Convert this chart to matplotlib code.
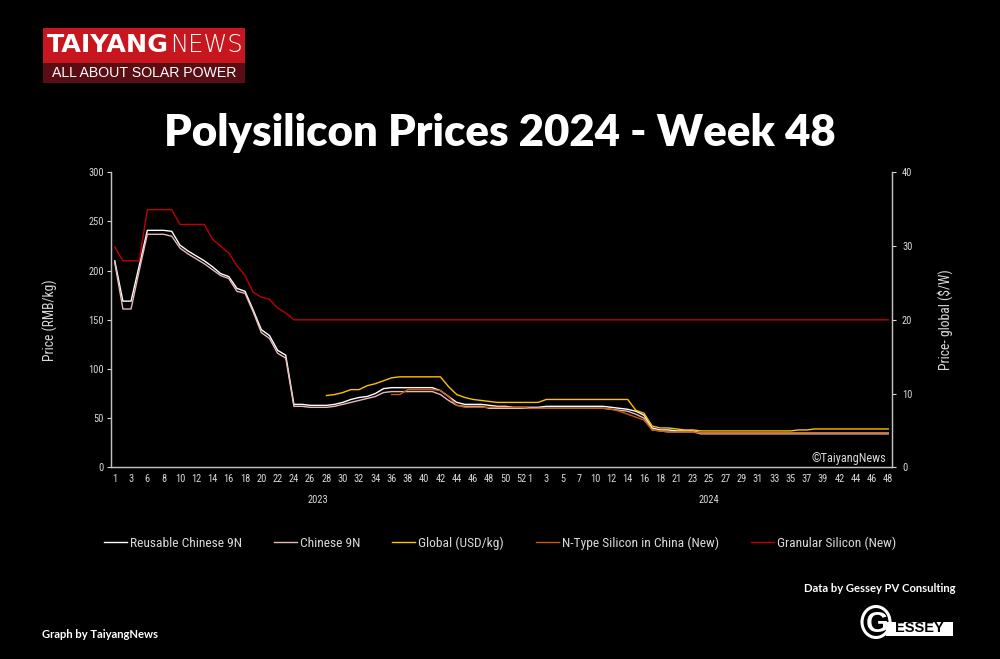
import matplotlib
matplotlib.use("Agg")
import matplotlib.pyplot as plt
import numpy as np
from matplotlib import font_manager
from matplotlib.patches import Rectangle, Ellipse
from matplotlib.transforms import blended_transform_factory

nan = np.nan

# week categories (two groups on the x axis)
weeks_2023 = [1, 2, 3, 5] + list(range(6, 53))
weeks_2024 = list(range(1, 9)) + list(range(10, 20)) + list(range(21, 41)) + list(range(42, 49))
years = ["2023", "2024"]

reusable_9n = [
    210, 169, 169, 205, 241, 241, 241, 240, 226, 220,
    215, 210, 204, 197, 194, 182, 179, 160, 140, 134,
    119, 114, 64, 64, 63, 63, 63, 64, 66, 69,
    71, 72, 75, 80, 81, 81, 81, 81, 81, 81,
    78, 72, 66, 64, 64, 64, 63, 62, 62, 61,
    61, 61, 61, 62, 62, 62, 62, 62, 62, 62,
    62, 61, 60, 59, 57, 53, 40, 38, 38, 37,
    37, 37, 35, 35, 35, 35, 35, 35, 35, 35,
    35, 35, 35, 35, 35, 35, 35, 35, 35, 35,
    35, 35, 35, 35, 35, 35,
]
chinese_9n = [
    208, 161, 161, 200, 237, 237, 237, 235, 223, 217,
    212, 207, 201, 195, 192, 179, 177, 158, 137, 131,
    116, 111, 62, 62, 61, 61, 61, 62, 64, 66,
    68, 70, 72, 76, 77, 77, 77, 77, 77, 77,
    74, 68, 63, 62, 62, 62, 60, 60, 60, 60,
    60, 60, 60, 60, 60, 60, 60, 60, 60, 60,
    60, 59, 58, 57, 54, 50, 38, 37, 36, 36,
    36, 36, 34, 34, 34, 34, 34, 34, 34, 34,
    34, 34, 34, 34, 34, 34, 34, 34, 34, 34,
    34, 34, 34, 34, 34, 34,
]
global_usd = [nan] * 26 + [
    73, 74, 76, 79, 79, 83, 85, 88, 91, 92,
    92, 92, 92, 92, 92, 82, 74, 71, 69, 68,
    67, 66, 66, 66, 66, 66, 66, 69, 69, 69,
    69, 69, 69, 69, 69, 69, 69, 69, 58, 55,
    42, 40, 40, 39, 38, 38, 37, 37, 37, 37,
    37, 37, 37, 37, 37, 37, 37, 37, 38, 38,
    39, 39, 39, 39, 39, 39, 39, 39, 39, 39,
]
n_type = [nan] * 34 + [
    74, 74, 79, 79, 79, 79, 78, 72, 63, 61,
    61, 61, 61, 61, 61, 61, 61, 60, 60, 60,
    60, 60, 60, 60, 60, 60, 60, 59, 57, 54,
    51, 48, 38, 37, 36, 36, 36, 36, 35, 35,
    35, 35, 35, 35, 35, 35, 35, 35, 35, 35,
    35, 35, 35, 35, 35, 35, 35, 35, 35, 35,
    35, 35,
]
granular = [
    224, 210, 210, 210, 262, 262, 262, 262, 247, 247,
    247, 247, 232, 225, 218, 205, 195, 178, 173, 171,
    162, 157,
] + [150] * 74

series = [
    ("Reusable Chinese 9N", reusable_9n, "#ffffff"),
    ("Chinese 9N", chinese_9n, "#e6b9b8"),
    ("Global (USD/kg)", global_usd, "#ffc000"),
    ("N-Type Silicon in China (New)", n_type, "#c55a11"),
    ("Granular Silicon (New)", granular, "#c00000"),
]

names = {f.name for f in font_manager.fontManager.ttflist}


def pick(*candidates):
    for name in candidates:
        if name in names:
            return name
    return "DejaVu Sans"


body_font = pick("Liberation Sans Narrow", "Roboto Condensed", "Roboto")
title_font = pick("Lato", "Open Sans", "Roboto")
logo_font = "DejaVu Sans"
small_font = pick("Liberation Sans", "Roboto")

text_grey = "#d9d9d9"
axis_grey = "#bfbfbf"

fig = plt.figure(figsize=(10, 6.59), dpi=100, facecolor="black")
ax = fig.add_axes([0.1107, 0.2909, 0.7816, 0.4476], facecolor="black")

n_cat = len(weeks_2023) + len(weeks_2024)
x = np.arange(n_cat)

for label, values, color in series:
    ax.plot(x, values, color=color, linewidth=1.0, label=label)

ax.set_xlim(-0.5, n_cat - 0.5)
ax.set_ylim(0, 300)
ax.set_yticks(range(0, 301, 50))

tick_pos = []
tick_lab = []
offset = 0
for group in (weeks_2023, weeks_2024):
    for i in range(0, len(group), 2):
        tick_pos.append(offset + i)
        tick_lab.append(str(group[i]))
    offset += len(group)
ax.set_xticks(tick_pos, tick_lab)

trans = blended_transform_factory(ax.transData, ax.transAxes)
centers = [(len(weeks_2023) - 1) / 2, len(weeks_2023) + (len(weeks_2024) - 1) / 2]
for year, c in zip(years, centers):
    ax.text(c, -0.11, year, transform=trans, ha="center", va="center",
            color=text_grey, fontsize=7.5, family=body_font)

ax2 = ax.twinx()
ax2.set_ylim(0, 40)
ax2.set_yticks(range(0, 41, 10))

for a in (ax, ax2):
    a.spines["top"].set_visible(False)
    for side in ("left", "right", "bottom"):
        a.spines[side].set_color(axis_grey)
        a.spines[side].set_linewidth(0.9)
    a.tick_params(colors=text_grey, labelsize=7.5, length=3, width=0.8)
    for t in a.get_yticklabels() + a.get_xticklabels():
        t.set_family(body_font)
ax.tick_params(axis="x", length=0, pad=5, labelsize=7.5)
ax.tick_params(axis="y", pad=2)
ax2.tick_params(axis="y", pad=4)

ax.set_ylabel("Price (RMB/kg)", color=text_grey, fontsize=9.8, family=body_font, labelpad=22)
ax2.set_ylabel("Price- global ($/W)", color=text_grey, fontsize=9.8, family=body_font, labelpad=18)

ax.text(0.992, 0.03, "\u00a9TaiyangNews", transform=ax.transAxes, ha="right", va="center",
        color=text_grey, fontsize=8.8, family=body_font)

handles, labels = ax.get_legend_handles_labels()
leg = fig.legend(handles, labels, loc="center", bbox_to_anchor=(0.5, 1 - 543 / 659), ncol=5,
                 frameon=False, handlelength=1.7, handletextpad=0.2, columnspacing=2.4,
                 prop={"family": body_font, "size": 9.7})
for t in leg.get_texts():
    t.set_color(text_grey)

fig.text(0.5, 1 - 133 / 659, "Polysilicon Prices 2024 - Week 48", ha="center", va="center",
         color="white", fontsize=31.5, fontweight="heavy", family=title_font)

# decorations in pixel space
deco = fig.add_axes([0, 0, 1, 1], facecolor="none")
deco.set_xlim(0, 1000)
deco.set_ylim(659, 0)
deco.axis("off")

deco.add_patch(Rectangle((43, 28), 202, 35, color="#c8161e", lw=0))
deco.add_patch(Rectangle((43, 63), 202, 20, color="#5a0d12", lw=0))
deco.text(47, 45.5, "TAIYANG", ha="left", va="center", color="white", fontsize=18.3,
          fontweight="bold", family=logo_font)
deco.text(243, 45.5, "NEWS", ha="right", va="center", color="white", fontsize=17.5,
          fontweight="light", family=logo_font)
deco.text(144, 73, "ALL ABOUT SOLAR POWER", ha="center", va="center", color="white",
          fontsize=10.2, family=small_font)

deco.text(955, 589, "Data by Gessey PV Consulting", ha="right", va="center", color="white",
          fontsize=8.1, fontweight="bold", family=title_font)
deco.text(42, 634, "Graph by TaiyangNews", ha="left", va="center", color="white",
          fontsize=8.1, fontweight="bold", family=title_font)

deco.add_patch(Ellipse((876, 622), 28, 31, fill=False, ec="white", lw=2.2))
deco.add_patch(Rectangle((886, 621.5), 67, 14, color="white", lw=0))
deco.text(877, 624, "G", ha="center", va="center", color="white", fontsize=21,
          fontweight="heavy", family=small_font)
deco.text(919.5, 628.5, "ESSEY", ha="center", va="center", color="black", fontsize=10.5,
          fontweight="bold", family=small_font)

fig.savefig("out.png", dpi=100, facecolor="black")
